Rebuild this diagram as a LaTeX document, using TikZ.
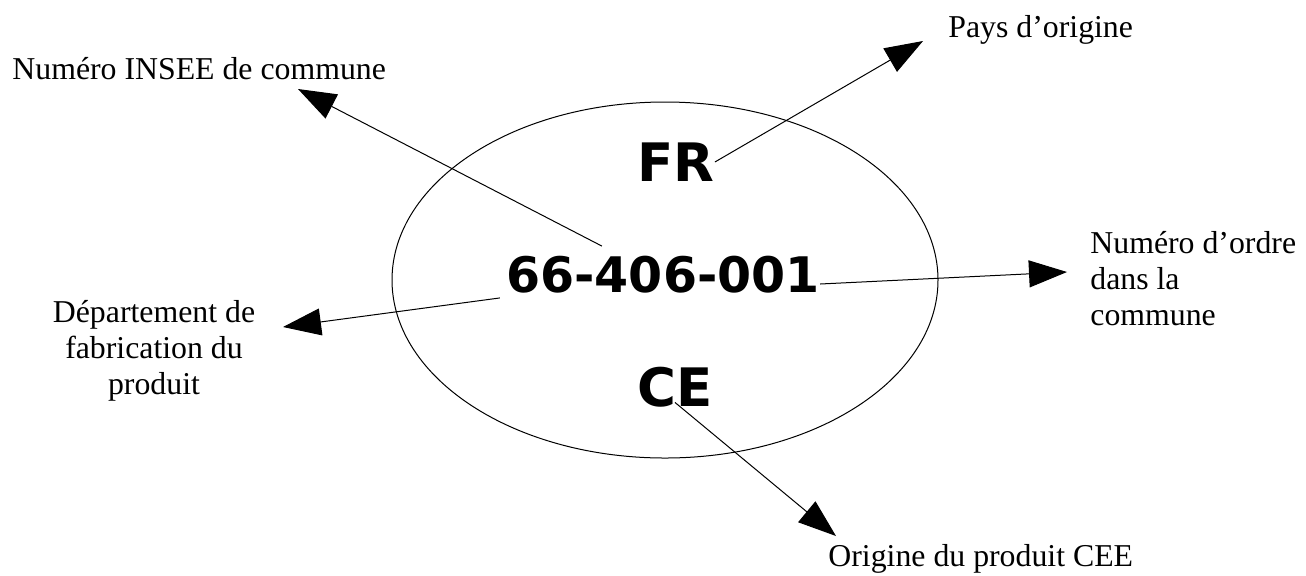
\documentclass[tikz,border=0pt]{standalone}
\usepackage{fontspec}
\setmainfont{Liberation Serif}
\newfontfamily\grasfont{DejaVu Sans}
\usetikzlibrary{arrows.meta}

\tikzset{
    fleche/.style={-{Triangle[length=19pt,width=13.5pt]}, line width=0.5pt},
    etiquette/.style={font=\fontsize{15.9}{17.8}\selectfont, inner sep=0pt},
    gros/.style={font=\grasfont\bfseries\fontsize{#1}{#1}\selectfont, inner sep=0pt},
    gros/.default=26.5
}

\begin{document}
\begin{tikzpicture}[x=0.5pt,y=-0.5pt]
    \useasboundingbox (0,0) rectangle (1306,575);

    \draw[line width=0.5pt] (665,280) ellipse [x radius=273, y radius=178];

    \node[gros] (fr) at (676,162) {FR};
    \node[gros=24.5] (num) at (663,275) {66-406-001};
    \node[gros] (ce) at (675,387) {CE};

    \node[etiquette, anchor=base west] (insee) at (12,79) {Numéro INSEE de commune};
    \node[etiquette, anchor=base west] (pays) at (948,37) {Pays d’origine};
    \node[etiquette, anchor=base west] (origine) at (828,566) {Origine du produit CEE};
    % base = baseline of the last line
    \node[etiquette, align=center, anchor=base] (dept) at (154,394)
        {Département de\\fabrication du\\produit};
    \node[etiquette, align=left, anchor=base west] (ordre) at (1090,325)
        {Numéro d’ordre\\dans la\\commune};

    \coordinate (pInsee) at (298,89);
    \coordinate (pPays) at (923,41);
    \coordinate (pOrdre) at (1067,272);
    \coordinate (pOrigine) at (836,536);
    \coordinate (pDept) at (283,327);

    \draw[fleche] ([shift={(48pt,5pt)}]num.north west) -- (pInsee);
    \draw[fleche] (fr.east) -- (pPays);
    \draw[fleche] ([yshift=-4.5pt]num.east) -- (pOrdre);
    \draw[fleche] ([shift={(-3pt,-2pt)}]num.south west) -- (pDept);
    \draw[fleche] ([yshift=2.5pt]ce.south) -- (pOrigine);
\end{tikzpicture}
\end{document}
